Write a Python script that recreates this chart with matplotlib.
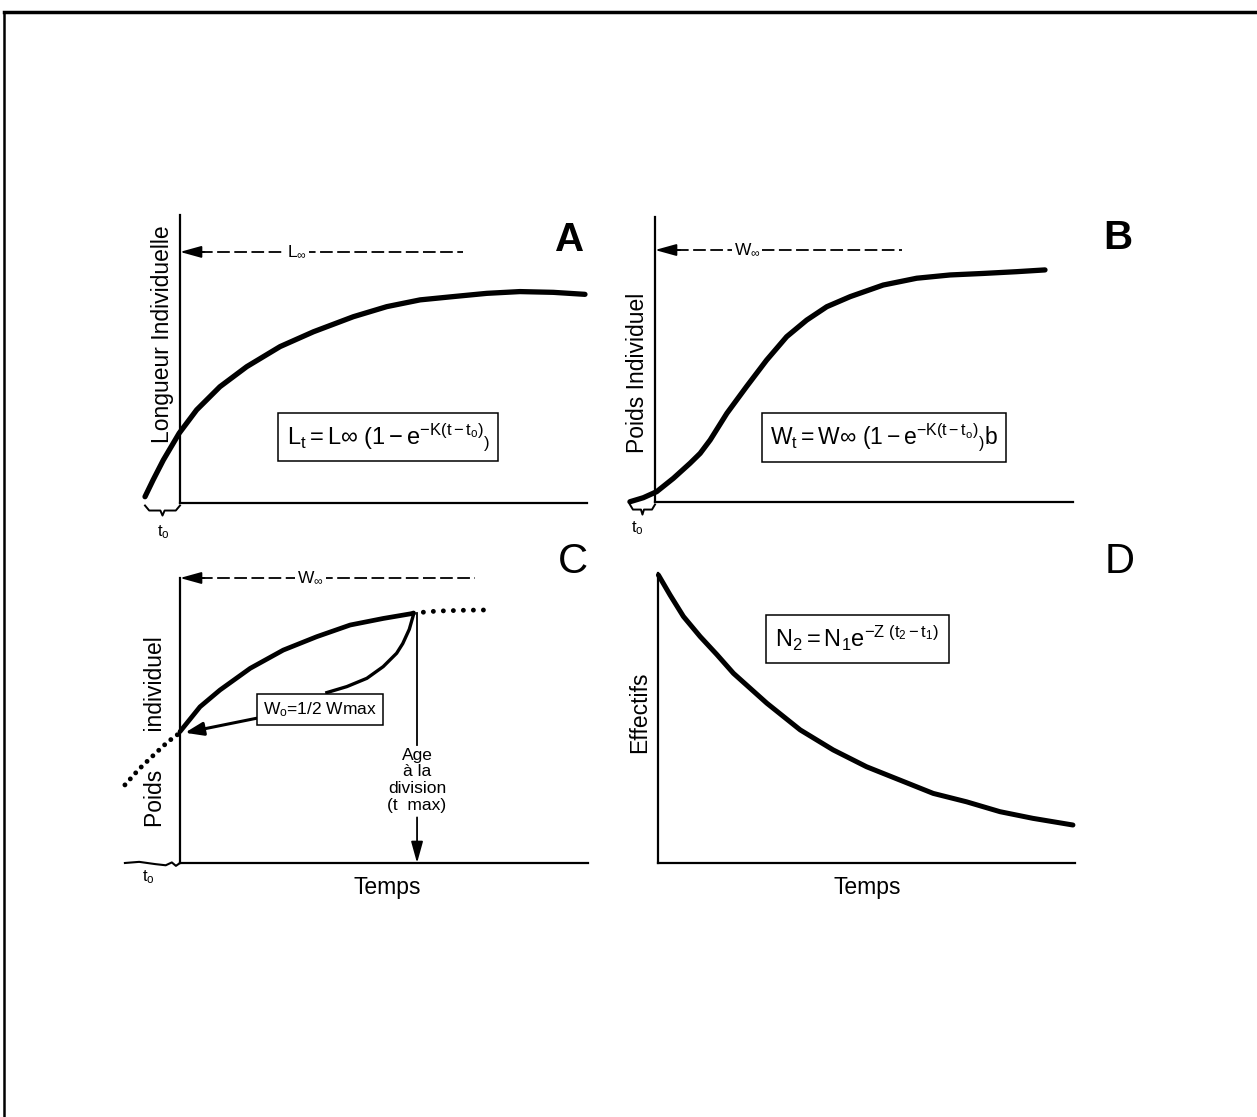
import matplotlib
matplotlib.use('Agg')
import matplotlib.pyplot as plt
from matplotlib.lines import Line2D

plt.rcParams['font.family'] = ['Liberation Sans', 'DejaVu Sans']
plt.rcParams['mathtext.fontset'] = 'custom'
plt.rcParams['mathtext.rm'] = 'Liberation Sans'
plt.rcParams['mathtext.it'] = 'Liberation Sans'
plt.rcParams['mathtext.bf'] = 'Liberation Sans:bold'

# A - length growth (time units 0..10, length relative to L-infinity)
a_t = [-0.86, -0.66, -0.41, -0.02, 0.41, 0.98, 1.64, 2.46, 3.28, 4.26, 5.08,
       5.90, 6.71, 7.54, 8.35, 9.17, 9.95]
a_L = [0.025, 0.092, 0.171, 0.278, 0.371, 0.463, 0.543, 0.623, 0.682, 0.742,
       0.782, 0.809, 0.822, 0.835, 0.842, 0.839, 0.831]
a_t0 = -0.86

# B - weight growth (sigmoid)
b_t = [-0.60, -0.28, 0.04, 0.44, 0.84, 1.08, 1.32, 1.72, 2.19, 2.67, 3.15,
       3.63, 4.11, 4.67, 5.46, 6.26, 7.06, 7.85, 8.65, 9.33]
b_W = [0.001, 0.017, 0.041, 0.094, 0.154, 0.193, 0.246, 0.352, 0.458, 0.563,
       0.656, 0.722, 0.775, 0.815, 0.861, 0.888, 0.901, 0.907, 0.914, 0.921]
b_t0 = -0.60

# C - individual weight between two divisions
c_t = [0.0, 0.49, 0.98, 1.72, 2.53, 3.35, 4.17, 4.98, 5.72]
c_W = [0.461, 0.548, 0.607, 0.683, 0.747, 0.794, 0.835, 0.858, 0.876]
c_back_t = [5.72, 5.62, 5.46, 5.31, 4.98, 4.58, 4.09, 3.60]
c_back_W = [0.870, 0.820, 0.770, 0.736, 0.689, 0.648, 0.619, 0.598]
c_before_t = [-1.35, -1.0, -0.6, -0.3, 0.0]
c_before_W = [0.274, 0.33, 0.385, 0.425, 0.457]
c_after_t = [5.72, 6.3, 7.0, 7.67]
c_after_W = [0.877, 0.884, 0.887, 0.888]
c_tmax = 5.81
c_t0 = -1.35

# D - numbers decreasing with time
d_t = [0.01, 0.29, 0.61, 1.01, 1.41, 1.81, 2.61, 3.41, 4.20, 5.00,
       5.80, 6.60, 7.40, 8.20, 8.99, 9.95]
d_N = [0.993, 0.924, 0.850, 0.781, 0.719, 0.654, 0.551, 0.459, 0.390,
       0.332, 0.286, 0.240, 0.211, 0.177, 0.154, 0.131]

W, H = 1257, 1117
fig = plt.figure(figsize=(W / 100, H / 100), dpi=100)


def panel(x0, x1, y_top, y_axis, ymax):
    ax = fig.add_axes([x0 / W, 1 - y_axis / H, (x1 - x0) / W, (y_axis - y_top) / H])
    ax.set_xlim(0, 10)
    ax.set_ylim(0, ymax)
    for s in ['top', 'right']:
        ax.spines[s].set_visible(False)
    for s in ['left', 'bottom']:
        ax.spines[s].set_linewidth(1.6)
    ax.set_xticks([])
    ax.set_yticks([])
    ax.patch.set_visible(False)
    return ax


def asymptote(ax, x_end, y, label, label_x):
    ax.plot([0.5, x_end], [y, y], color='k', lw=1.3, ls=(0, (7, 2.5)), clip_on=False)
    ax.annotate('', xy=(0, y), xytext=(0.6, y),
                arrowprops=dict(arrowstyle='-|>,head_length=1.3,head_width=0.36',
                                color='k', lw=1.3, shrinkA=0, shrinkB=0))
    ax.text(label_x, y, label, ha='center', va='center', fontsize=12.5,
            bbox=dict(fc='white', ec='none', pad=1.5))


def brace(ax, ts, te, y0, d):
    w = te - ts
    mid = (ts + te) / 2
    xs = [ts, ts + 0.12 * w, mid - 0.06 * w, mid, mid + 0.06 * w, te - 0.12 * w, te]
    ys = [y0, y0 - d, y0 - d, y0 - 2 * d, y0 - d, y0 - d, y0]
    ax.plot(xs, ys, color='k', lw=1.4, clip_on=False)


box = dict(boxstyle='square,pad=0.35', fc='white', ec='k', lw=1.1)
lab = dict(fontsize=16.5, rotation=90, ha='center', va='center')

# ---- A
axA = panel(180, 587, 215, 503, 1.147)
axA.plot(a_t, a_L, color='k', lw=3.8, solid_capstyle='round', clip_on=False)
asymptote(axA, 6.95, 1.0, r'L$_\infty$', 2.87)
axA.text(5.12, 0.263, r'$\mathrm{L_t = L\infty\ (1-e^{-K(t-t_o)}{}_{)}}$', fontsize=17,
         ha='center', va='center', bbox=box)
axA.text(9.58, 1.048, 'A', fontsize=29, fontweight='bold', ha='center', va='center')
axA.text(-0.042, 0.587, 'Longueur Individuelle', transform=axA.transAxes, **lab)
brace(axA, a_t0, 0, -0.01, 0.02)
axA.text(-0.42, -0.116, r'$\mathrm{t_o}$', fontsize=12, ha='center', va='center')

# ---- B
axB = panel(655, 1073, 217, 502, 1.131)
axB.plot(b_t, b_W, color='k', lw=3.8, solid_capstyle='round', clip_on=False)
asymptote(axB, 5.91, 1.0, r'W$_\infty$', 2.2)
axB.text(5.47, 0.256, r'$\mathrm{W_t = W\infty\ (1-e^{-K(t-t_o)}{}_{)}b}$', fontsize=16.5,
         ha='center', va='center', bbox=box)
axB.text(11.08, 1.048, 'B', fontsize=29, fontweight='bold', ha='center', va='center')
axB.text(-0.043, 0.453, 'Poids Individuel', transform=axB.transAxes, **lab)
brace(axB, b_t0, 0, -0.01, 0.02)
axB.text(-0.43, -0.103, r'$\mathrm{t_o}$', fontsize=12, ha='center', va='center')

# ---- C
axC = panel(180, 588, 578, 863, 1.0)
axC.plot(c_t, c_W, color='k', lw=3.4, solid_capstyle='round', clip_on=False)
axC.plot(c_back_t, c_back_W, color='k', lw=2.4, clip_on=False)
axC.plot(c_before_t, c_before_W, color='k', lw=3.5, ls=(0, (0.01, 1.65)),
         dash_capstyle='round', clip_on=False)
axC.plot(c_after_t, c_after_W, color='k', lw=3.5, ls=(0, (0.01, 2.05)),
         dash_capstyle='round', clip_on=False)
axC.annotate('', xy=(0.12, 0.457), xytext=(1.88, 0.508),
             arrowprops=dict(arrowstyle='-|>,head_length=1.1,head_width=0.4',
                             color='k', lw=2.2, shrinkA=0, shrinkB=0))
axC.text(3.44, 0.539, r'W$_\mathrm{o}$=1/2 Wmax', fontsize=12.5, ha='center', va='center',
         bbox=dict(boxstyle='square,pad=0.35', fc='white', ec='k', lw=1.1))
axC.plot([c_tmax, c_tmax], [0.877, 0.415], color='k', lw=1.3)
axC.annotate('', xy=(c_tmax, 0.0), xytext=(c_tmax, 0.16),
             arrowprops=dict(arrowstyle='-|>,head_length=1.3,head_width=0.36',
                             color='k', lw=1.3, shrinkA=0, shrinkB=0))
axC.text(c_tmax, 0.29, 'Age\nà la\ndivision\n(t  max)', fontsize=12.5, ha='center',
         va='center', linespacing=1.15)
asymptote(axC, 7.23, 1.0, r'W$_\infty$', 3.19)
axC.text(9.63, 1.056, 'C', fontsize=30, ha='center', va='center')
axC.text(-0.061, 0.46, 'Poids      individuel', transform=axC.transAxes, **lab)
axC.plot([c_t0, -1.0, -0.6, -0.35, -0.2, -0.1, 0.0],
         [0.0, 0.004, -0.004, -0.008, 0.002, -0.01, 0.0], color='k', lw=1.5, clip_on=False)
axC.text(-0.78, -0.049, r'$\mathrm{t_o}$', fontsize=12, ha='center', va='center')
axC.text(0.507, -0.085, 'Temps', transform=axC.transAxes, fontsize=16.5,
         ha='center', va='center')

# ---- D
axD = panel(658, 1075, 573, 863, 1.0)
axD.plot(d_t, d_N, color='k', lw=3.6, solid_capstyle='round', clip_on=False)
axD.text(4.78, 0.774, r'$\mathrm{N_2 = N_1 e^{-Z\ (t_2-t_1)}}$', fontsize=17,
         ha='center', va='center',
         bbox=dict(boxstyle='square,pad=0.4', fc='white', ec='k', lw=1.1))
axD.text(11.08, 1.038, 'D', fontsize=30, ha='center', va='center')
axD.text(-0.043, 0.52, 'Effectifs', transform=axD.transAxes, **lab)
axD.text(0.501, -0.083, 'Temps', transform=axD.transAxes, fontsize=16.5,
         ha='center', va='center')

# page frame (top and left edges of the scanned sheet)
fig.add_artist(Line2D([4 / W, 1], [1 - 12 / H, 1 - 12 / H], color='k', lw=2.5))
fig.add_artist(Line2D([4 / W, 4 / W], [1 - 12 / H, 0], color='k', lw=1.8))

fig.savefig('out.png', dpi=100)
